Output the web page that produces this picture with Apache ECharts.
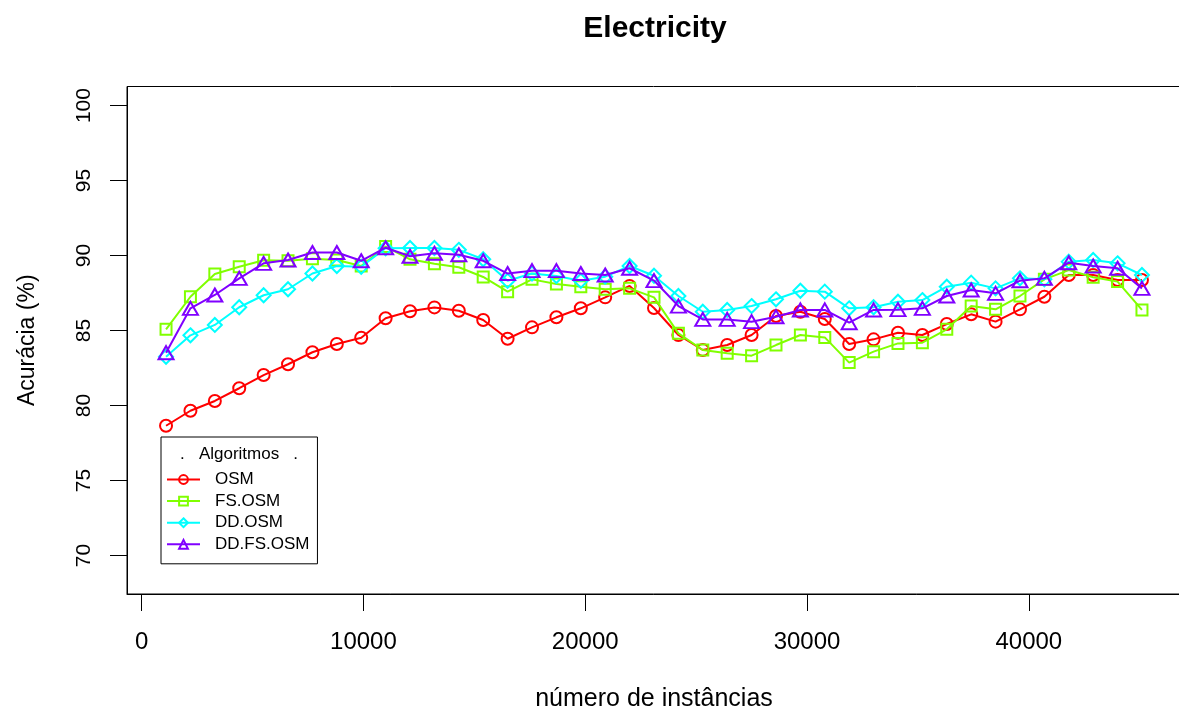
<!DOCTYPE html>
<html><head><meta charset="utf-8">
<script src="https://cdn.jsdelivr.net/npm/echarts@6/dist/echarts.min.js"></script>
<style>html,body{margin:0;padding:0;background:#fff;overflow:hidden}#c{width:1179px;height:713px}</style>
</head><body><div id="c"></div>
<script>
const instances = [1100, 2200, 3300, 4400, 5500, 6600, 7700, 8800, 9900, 11000,
  12100, 13200, 14300, 15400, 16500, 17600, 18700, 19800, 20900, 22000,
  23100, 24200, 25300, 26400, 27500, 28600, 29700, 30800, 31900, 33000,
  34100, 35200, 36300, 37400, 38500, 39600, 40700, 41800, 42900, 44000, 45100];
const osm = [78.65, 79.65, 80.3, 81.15, 82.03, 82.75, 83.55, 84.1, 84.52, 85.82,
  86.28, 86.54, 86.32, 85.7, 84.45, 85.21, 85.88, 86.48, 87.21, 87.97,
  86.5, 84.7, 83.7, 84.03, 84.7, 85.97, 86.25, 85.77, 84.1, 84.41,
  84.85, 84.7, 85.43, 86.08, 85.59, 86.41, 87.25, 88.7, 88.7, 88.37, 88.37];
const fsOsm = [85.08, 87.25, 88.77, 89.25, 89.68, 89.65, 89.78, 89.7, 89.3, 90.6,
  89.75, 89.45, 89.22, 88.57, 87.59, 88.41, 88.1, 87.92, 87.75, 87.81,
  87.21, 84.81, 83.7, 83.48, 83.32, 84.03, 84.7, 84.54, 82.86, 83.59,
  84.14, 84.19, 85.08, 86.63, 86.41, 87.3, 88.41, 89.03, 88.55, 88.26, 86.37];
const ddOsm = [83.25, 84.68, 85.37, 86.55, 87.35, 87.75, 88.8, 89.3, 89.25, 90.48,
  90.5, 90.5, 90.38, 89.75, 88.32, 88.8, 88.63, 88.32, 88.59, 89.3,
  88.65, 87.3, 86.25, 86.37, 86.63, 87.08, 87.65, 87.59, 86.48, 86.55,
  86.92, 87.03, 87.92, 88.19, 87.81, 88.48, 88.41, 89.59, 89.7, 89.48, 88.7];
const ddFsOsm = [83.52, 86.48, 87.37, 88.48, 89.48, 89.7, 90.2, 90.2, 89.65, 90.52,
  89.95, 90.15, 90.05, 89.65, 88.8, 88.99, 88.99, 88.8, 88.7, 89.15,
  88.33, 86.63, 85.74, 85.74, 85.59, 85.92, 86.37, 86.37, 85.52, 86.37,
  86.39, 86.48, 87.3, 87.7, 87.48, 88.32, 88.48, 89.52, 89.3, 89.15, 87.81];
const xTicks = [0, 10000, 20000, 30000, 40000];
const yTicks = [70, 75, 80, 85, 90, 95, 100];
const seriesNames = ['OSM', 'FS.OSM', 'DD.OSM', 'DD.FS.OSM'];
const seriesValues = [osm, fsOsm, ddOsm, ddFsOsm];
const colors = ['#FF0000', '#80FF00', '#00FFFF', '#8000FF'];
const symbols = ['circle', 'rect', 'diamond', 'triangle'];
const symbolSizes = [12, 11, 14, [15, 13]];

const FONT = "'Liberation Sans', Arial, Helvetica, sans-serif";
const chart = echarts.init(document.getElementById('c'));
const series = seriesNames.map((name, i) => ({
  name: name,
  type: 'line',
  data: instances.map((x, j) => [x, seriesValues[i][j]]),
  symbol: symbols[i],
  symbolSize: symbolSizes[i],
  showAllSymbol: true,
  lineStyle: { color: colors[i], width: 2 },
  itemStyle: { color: 'rgba(255,255,255,0)', borderColor: colors[i], borderWidth: 2 },
  emphasis: { disabled: true },
  z: 2 + i
}));

chart.setOption({
  animation: false,
  backgroundColor: '#fff',
  title: {
    text: 'Electricity', left: 650, top: 9, textAlign: 'center',
    textStyle: { fontFamily: FONT, fontSize: 30, fontWeight: 'bold', color: '#000' }
  },
  grid: { left: 127, top: 86.5, width: 1054, height: 507.5, show: true,
    outerBoundsMode: 'none', containLabel: false,
    borderColor: '#000', borderWidth: 1, backgroundColor: 'transparent' },
  xAxis: {
    type: 'value', min: -660, max: 46860,
    name: 'número de instâncias', nameLocation: 'middle', nameGap: 93,
    nameTextStyle: { fontFamily: FONT, fontSize: 25, color: '#000' },
    axisLine: { show: true, onZero: false, lineStyle: { color: '#000', width: 1 } },
    axisTick: { show: true, length: 17, customValues: xTicks, lineStyle: { color: '#000', width: 1 } },
    axisLabel: { customValues: xTicks, margin: 36, fontFamily: FONT, fontSize: 24, color: '#000',
      formatter: v => String(v) },
    splitLine: { show: false }
  },
  yAxis: {
    type: 'value', min: 67.43, max: 101.27,
    name: 'Acurácia (%)', nameLocation: 'middle', nameGap: 88, nameRotate: 90,
    nameTextStyle: { fontFamily: FONT, fontSize: 23, color: '#000' },
    axisLine: { show: true, onZero: false, lineStyle: { color: '#000', width: 1 } },
    axisTick: { show: true, length: 17, customValues: yTicks, lineStyle: { color: '#000', width: 1 } },
    axisLabel: { customValues: yTicks, rotate: 90, margin: 32, fontFamily: FONT, fontSize: 21, color: '#000' },
    splitLine: { show: false }
  },
  legend: {
    data: seriesNames, orient: 'vertical', left: 161, top: 437,
    padding: [34, 8, 11, 5], itemGap: 4.6, itemWidth: 33, itemHeight: 11,
    borderColor: '#000', borderWidth: 1, backgroundColor: '#fff',
    selectedMode: false,
    textStyle: { fontFamily: FONT, fontSize: 17, color: '#000', padding: [0, 0, 0, 10] }
  },
  graphic: [{
    type: 'text', left: 180, top: 446, z: 100,
    style: { text: '.   Algoritmos   .', font: '17px ' + FONT, fill: '#000' }
  }],
  series: series
});
</script></body></html>
